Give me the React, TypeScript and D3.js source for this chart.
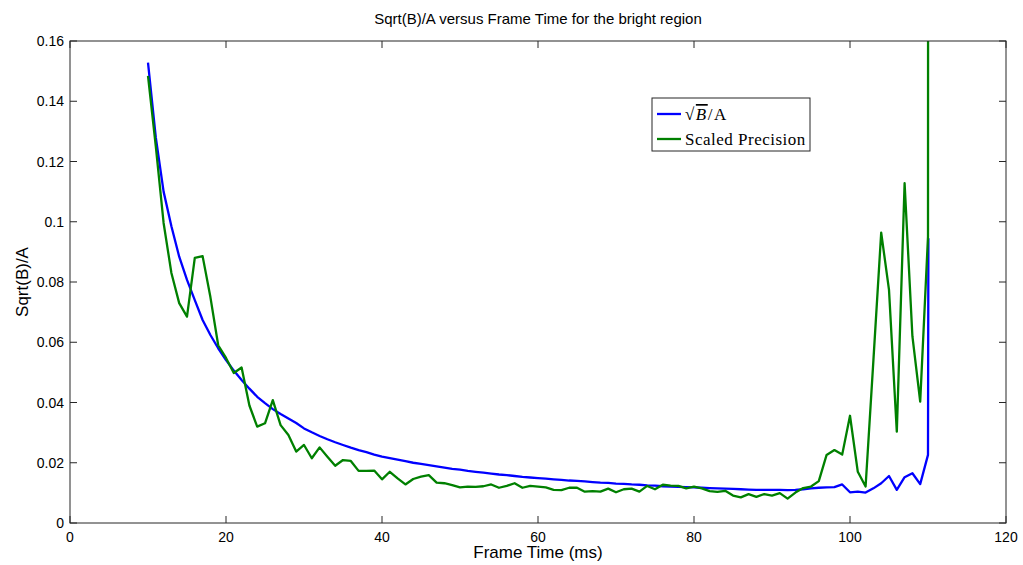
import * as d3 from 'd3';

// Frame times (ms); last sample sits just past 110
const frameTimes = [
  10, 11, 12, 13, 14, 15, 16, 17, 18, 19, 20, 21, 22, 23, 24, 25, 26, 27, 28, 29,
  30, 31, 32, 33, 34, 35, 36, 37, 38, 39, 40, 41, 42, 43, 44, 45, 46, 47, 48, 49,
  50, 51, 52, 53, 54, 55, 56, 57, 58, 59, 60, 61, 62, 63, 64, 65, 66, 67, 68, 69,
  70, 71, 72, 73, 74, 75, 76, 77, 78, 79, 80, 81, 82, 83, 84, 85, 86, 87, 88, 89,
  90, 91, 92, 93, 94, 95, 96, 97, 98, 99, 100, 101, 102, 103, 104, 105, 106, 107, 108, 109,
  110, 110.05,
];

// sqrt(B)/A
const sqrtBoverA = [
  0.1528, 0.128, 0.110, 0.0985, 0.0884, 0.0807, 0.074, 0.0674, 0.0624, 0.058,
  0.0541, 0.0506, 0.0475, 0.0446, 0.0419, 0.0398, 0.0378, 0.0362, 0.0347, 0.0332,
  0.0314, 0.0301, 0.0289, 0.0278, 0.0268, 0.0259, 0.025, 0.0242, 0.0235, 0.0227,
  0.022, 0.0215, 0.021, 0.0205, 0.02, 0.0196, 0.0192, 0.0188, 0.0184, 0.018,
  0.0177, 0.0173, 0.017, 0.0167, 0.0164, 0.0161, 0.0159, 0.0156, 0.0153, 0.0151,
  0.0149, 0.0147, 0.0145, 0.0143, 0.0141, 0.014, 0.0138, 0.0136, 0.0134, 0.0133,
  0.0131, 0.013, 0.0128, 0.0127, 0.0125, 0.0124, 0.0122, 0.0121, 0.012, 0.0119,
  0.0118, 0.0117, 0.0116, 0.0115, 0.0114, 0.0113, 0.0112, 0.0111, 0.011, 0.011,
  0.011, 0.011, 0.0109, 0.011, 0.0112, 0.0115, 0.0117, 0.0118, 0.0119, 0.0128,
  0.0102, 0.0104, 0.0101, 0.0115, 0.0132, 0.0156, 0.011, 0.0152, 0.0165, 0.0129,
  0.0226, 0.0945,
];

// Scaled precision
const scaledPrecision = [
  0.1484, 0.125, 0.0996, 0.083, 0.073, 0.0685, 0.088, 0.0886, 0.075, 0.059,
  0.0548, 0.0498, 0.0516, 0.039, 0.032, 0.0331, 0.0408, 0.0325, 0.0292, 0.0237,
  0.0259, 0.0215, 0.0251, 0.022, 0.019, 0.0209, 0.0206, 0.0173, 0.0173, 0.0174,
  0.0145, 0.017, 0.0148, 0.0128, 0.0146, 0.0154, 0.0159, 0.0134, 0.0132, 0.0126,
  0.0118, 0.0121, 0.012, 0.0122, 0.0128, 0.0117, 0.0123, 0.0132, 0.0117, 0.0123,
  0.0121, 0.0118, 0.011, 0.0109, 0.0117, 0.0117, 0.0104, 0.0106, 0.0104, 0.0114,
  0.0102, 0.0112, 0.0114, 0.0104, 0.0123, 0.0112, 0.0127, 0.0124, 0.0123, 0.0115,
  0.0121, 0.0115, 0.0106, 0.0103, 0.0107, 0.0091, 0.0085, 0.0096, 0.0087, 0.0096,
  0.0091, 0.0099, 0.0081, 0.0101, 0.0116, 0.0121, 0.0139, 0.0226, 0.0242, 0.0227,
  0.0356, 0.017, 0.0121, 0.054, 0.0964, 0.0774, 0.0303, 0.1128, 0.062, 0.0403,
  0.095, 0.5,
];

const xTicks = [0, 20, 40, 60, 80, 100, 120];
const yTicks = [0, 0.02, 0.04, 0.06, 0.08, 0.1, 0.12, 0.14, 0.16];

const W = 1023;
const H = 565;
const M = { left: 70, right: 1006, top: 41, bottom: 523 };
const axisColor = '#262626';
const font = '"Liberation Sans", Arial, sans-serif';
const serif = '"Liberation Serif", "Times New Roman", serif';

export default function App() {
  const x = d3.scaleLinear().domain([0, 120]).range([M.left, M.right]);
  const y = d3.scaleLinear().domain([0, 0.16]).range([M.bottom, M.top]);

  const line = d3
    .line<number>()
    .x((_, i) => x(frameTimes[i]))
    .y(d => y(d));

  const tickLen = 7;

  return (
    <svg width={W} height={H} style={{ position: 'absolute', left: 0, top: 0, background: '#fff' }}>
      <defs>
        <clipPath id="plot-clip">
          <rect x={M.left} y={M.top} width={M.right - M.left} height={M.bottom - M.top} />
        </clipPath>
      </defs>
      <rect x={0} y={0} width={W} height={H} fill="#fff" />

      {/* data lines */}
      <g clipPath="url(#plot-clip)" fill="none" strokeWidth={2.3} strokeLinejoin="round">
        <path d={line(sqrtBoverA) ?? ''} stroke="#0000ff" />
        <path d={line(scaledPrecision) ?? ''} stroke="#008000" />
      </g>

      {/* frame */}
      <rect
        x={M.left}
        y={M.top}
        width={M.right - M.left}
        height={M.bottom - M.top}
        fill="none"
        stroke={axisColor}
        strokeWidth={1}
      />

      {/* ticks on all four sides */}
      <g stroke={axisColor} strokeWidth={1}>
        {xTicks.map(t => (
          <g key={'x' + t}>
            <line x1={x(t)} x2={x(t)} y1={M.bottom} y2={M.bottom - tickLen} />
            <line x1={x(t)} x2={x(t)} y1={M.top} y2={M.top + tickLen} />
          </g>
        ))}
        {yTicks.map(t => (
          <g key={'y' + t}>
            <line x1={M.left} x2={M.left + tickLen} y1={y(t)} y2={y(t)} />
            <line x1={M.right} x2={M.right - tickLen} y1={y(t)} y2={y(t)} />
          </g>
        ))}
      </g>

      <g fontFamily={font} fontSize={14} fill="#000">
        {xTicks.map(t => (
          <text key={'xl' + t} x={x(t)} y={M.bottom + 19} textAnchor="middle">
            {t}
          </text>
        ))}
        {yTicks.map(t => (
          <text key={'yl' + t} x={M.left - 6} y={y(t) + 5} textAnchor="end">
            {t}
          </text>
        ))}
      </g>

      {/* titles */}
      <text x={(M.left + M.right) / 2} y={24} textAnchor="middle" fontFamily={font} fontSize={15}>
        Sqrt(B)/A versus Frame Time for the bright region
      </text>
      <text x={(M.left + M.right) / 2} y={558} textAnchor="middle" fontFamily={font} fontSize={17}>
        Frame Time (ms)
      </text>
      <text
        transform={`translate(28, ${(M.top + M.bottom) / 2}) rotate(-90)`}
        textAnchor="middle"
        fontFamily={font}
        fontSize={17}
      >
        Sqrt(B)/A
      </text>

      {/* legend */}
      <g>
        <rect x={652} y={98} width={158} height={53} fill="#fff" stroke={axisColor} strokeWidth={1} />
        <line x1={657} x2={681} y1={114} y2={114} stroke="#0000ff" strokeWidth={2.3} />
        <line x1={657} x2={681} y1={139} y2={139} stroke="#008000" strokeWidth={2.3} />
        <text x={685} y={120} fontFamily={serif} fontSize={17} letterSpacing={1.5}>
          <tspan>√</tspan>
          <tspan fontStyle="italic" textDecoration="overline">B</tspan>
          <tspan>/A</tspan>
        </text>
        <text x={685} y={145} fontFamily={serif} fontSize={17} letterSpacing={0.5}>
          Scaled Precision
        </text>
      </g>
    </svg>
  );
}
